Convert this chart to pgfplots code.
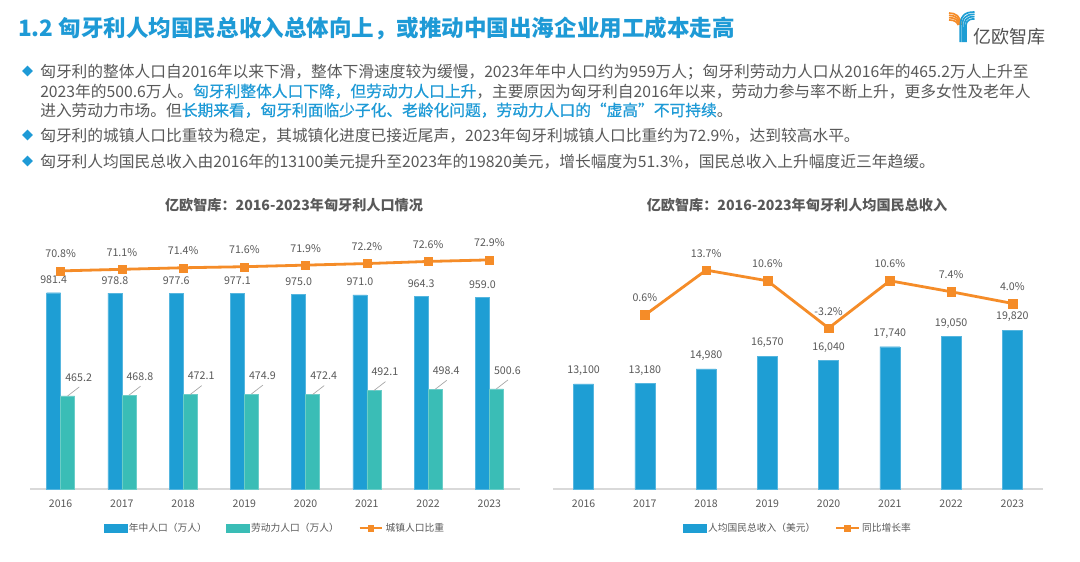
\documentclass[border=0pt]{standalone}
\usepackage{fontspec}
\setmainfont{Noto Sans CJK SC}
\newfontfamily\hlfont[FakeBold=0.7]{Noto Sans CJK SC}
\usepackage{pgfplots}
\usepackage{pgfplotstable}
\pgfplotsset{compat=1.18}
\pgfplotsset{/pgf/number format/assume math mode=true}

\definecolor{titleblue}{RGB}{30,154,214}
\definecolor{barblue}{RGB}{30,158,212}
\definecolor{barteal}{RGB}{58,189,182}
\definecolor{lineorange}{RGB}{245,140,40}
\definecolor{textgray}{RGB}{89,89,89}
\definecolor{axisgray}{RGB}{217,217,217}
\definecolor{leadgray}{RGB}{166,166,166}

% Hungary: mid-year population, labour force (10k persons), urban share (%)
\pgfplotstableread{
x pop labor urban
0 981.4 465.2 70.8
1 978.8 468.8 71.1
2 977.6 472.1 71.4
3 977.1 474.9 71.6
4 975.0 472.4 71.9
5 971.0 492.1 72.2
6 964.3 498.4 72.6
7 959.0 500.6 72.9
}\popdata

% GNI per capita (USD)
\pgfplotstableread{
x gni
0 13100
1 13180
2 14980
3 16570
4 16040
5 17740
6 19050
7 19820
}\gnidata

% Year-on-year growth (%)
\pgfplotstableread{
x growth
1 0.6
2 13.7
3 10.6
4 -3.2
5 10.6
6 7.4
7 4.0
}\growthdata

\tikzset{lbl/.style={font=\fontsize{8}{9}\selectfont, text=textgray, anchor=center}}

\pgfplotsset{
  panel/.style={
    scale only axis, width=367.5pt, height=194.25pt,
    xmin=-0.5, xmax=7.5, anchor=south west, clip=false,
  },
  barpanel/.style={
    panel,
    axis x line*=bottom, axis y line=none,
    x axis line style={draw=axisgray, line width=1.1pt},
    xtick={0,...,7},
    xticklabels={2016,2017,2018,2019,2020,2021,2022,2023},
    major tick length=0pt,
    xticklabel style={font=\fontsize{7.9}{9}\selectfont, text=textgray,
      anchor=center, yshift=-11.25pt},
    ytick=\empty,
    legend style={draw=none, fill=none, anchor=center,
      font=\fontsize{7.3}{9}\selectfont, text=textgray,
      /tikz/every even column/.append style={column sep=13pt},
      nodes={inner sep=1.5pt}},
    legend cell align=left,
  },
  linepanel/.style={panel, hide axis},
}

\begin{document}
\begin{tikzpicture}
\useasboundingbox (0,0) rectangle (810pt,-420.75pt);
\fill[white] (0,0) rectangle (810pt,-420.75pt);

% ---------- header and bullet text ----------
\begin{scope}[x=0.75pt,y=-0.75pt]
\node[anchor=base west, inner sep=0, text=titleblue,
  font=\fontsize{16.9}{20}\selectfont\bfseries] at (18,36.5)
  {1.2 匈牙利人均国民总收入总体向上，或推动中国出海企业用工成本走高};

% logo: striped Y mark and wordmark
\foreach \i in {0,1,2,3}{
  \draw[lineorange, line width=1.25pt]
    (949,{13+2.3*\i}) .. controls (955,{13+2.3*\i}) and ({961-1.0*\i},{16+2.3*\i}) .. ({961-1.0*\i},{25});
}
\foreach \i in {0,1,2,3}{
  \draw[barblue, line width=1.25pt]
    (974.5,{12+2.3*\i}) .. controls ({964+0.6*\i},{12+2.3*\i}) and ({960.2+1.9*\i},{16+2.6*\i}) .. ({960.2+1.9*\i},28)
    -- ({960.2+1.9*\i},42);
}
\node[anchor=base west, inner sep=0, text=black!68,
  font=\fontsize{13.5}{15}\selectfont] at (973,43.6) {亿欧智库};

% bullets
\foreach \yy in {71,135,161}{
  \fill[titleblue] (27.5,\yy-5.3) -- (32.8,\yy) -- (27.5,\yy+5.3) -- (22.2,\yy) -- cycle;
}
\begin{scope}[every node/.style={anchor=base west, inner sep=0, text=textgray,
  font=\fontsize{11.8}{14}\selectfont}]
\node at (40,77) {匈牙利的整体人口自2016年以来下滑，整体下滑速度较为缓慢，2023年年中人口约为959万人；匈牙利劳动力人口从2016年的465.2万人上升至};
\node at (40,97) {2023年的500.6万人。{\color{titleblue}\hlfont 匈牙利整体人口下降，但劳动力人口上升}，主要原因为匈牙利自2016年以来，劳动力参与率不断上升，更多女性及老年人};
\node at (40,116) {进入劳动力市场。但{\color{titleblue}\hlfont 长期来看，匈牙利面临少子化、老龄化问题，劳动力人口的“虚高”不可持续}。};
\node at (40,141) {匈牙利的城镇人口比重较为稳定，其城镇化进度已接近尾声，2023年匈牙利城镇人口比重约为72.9\%，达到较高水平。};
\node at (40,167) {匈牙利人均国民总收入由2016年的13100美元提升至2023年的19820美元，增长幅度为51.3\%，国民总收入上升幅度近三年趋缓。};
\end{scope}

% chart titles
\node[anchor=base, inner sep=0, text=textgray, font=\fontsize{10.6}{12}\selectfont\bfseries]
  at (294,210.4) {亿欧智库：2016-2023年匈牙利人口情况};
\node[anchor=base, inner sep=0, text=textgray, font=\fontsize{10.6}{12}\selectfont\bfseries]
  at (797,210.4) {亿欧智库：2016-2023年匈牙利人均国民总收入};
\end{scope}

% ---------- left chart: population ----------
\begin{axis}[barpanel, at={(22.5pt,-366.75pt)}, ymin=0, ymax=1295,
  legend columns=3, legend style={at={(0.5,-0.1506)}}]
\addplot[ybar, bar width=10.5pt, bar shift=0pt, fill=barblue, draw=barblue!75!white, line width=0.3pt,
  nodes near coords={\pgfmathprintnumber[fixed,fixed zerofill,precision=1]{\pgfplotspointmeta}},
  nodes near coords style={lbl, yshift=9.5pt},
  legend image code/.code={\fill[barblue] (0pt,-3pt) rectangle (17pt,3pt);}]
  table[x expr=\thisrow{x}-0.1143, y=pop, meta=pop] {\popdata};
\addlegendentry{年中人口（万人）}
\addplot[ybar, bar width=10.5pt, bar shift=0pt, fill=barteal, draw=barteal!75!white, line width=0.3pt,
  nodes near coords={\pgfmathprintnumber[fixed,fixed zerofill,precision=1]{\pgfplotspointmeta}},
  nodes near coords style={lbl, xshift=8.25pt, yshift=14pt},
  legend image code/.code={\fill[barteal] (0pt,-3pt) rectangle (17pt,3pt);}]
  table[x expr=\thisrow{x}+0.1143, y=labor, meta=labor] {\popdata};
\addlegendentry{劳动力人口（万人）}
% leader lines from the labour-force bars to their labels
\addplot[forget plot, draw=leadgray, line width=0.5pt, quiver={u=0.19, v=45}]
  table[x expr=\thisrow{x}+0.1143, y=labor] {\popdata};
\addlegendimage{legend image code/.code={
  \draw[lineorange, line width=2.2pt] (0pt,0pt) -- (17pt,0pt);
  \fill[lineorange] (6.5pt,-2.2pt) rectangle (10.5pt,2.2pt);}}
\addlegendentry{城镇人口比重}
\end{axis}

\begin{axis}[linepanel, at={(22.5pt,-366.75pt)}, ymin=29.2, ymax=78.6]
\addplot[draw=lineorange, line width=2.1pt, mark=square*, mark size=3pt,
  mark options={solid, fill=lineorange, draw=lineorange, line width=0.3pt},
  nodes near coords={\pgfmathprintnumber[fixed,fixed zerofill,precision=1]{\pgfplotspointmeta}\%},
  nodes near coords style={lbl, yshift=12.75pt}]
  table[x=x, y=urban, meta=urban] {\popdata};
\end{axis}

% ---------- right chart: GNI per capita ----------
\begin{axis}[barpanel, at={(414.75pt,-366.75pt)}, ymin=0, ymax=32294,
  legend columns=2, legend style={at={(0.5,-0.1506)}}]
\addplot[ybar, bar width=15pt, bar shift=0pt, fill=barblue, draw=barblue!75!white, line width=0.3pt,
  nodes near coords={\pgfmathprintnumber[fixed,precision=0,1000 sep={,}]{\pgfplotspointmeta}},
  nodes near coords style={lbl, yshift=9.75pt},
  legend image code/.code={\fill[barblue] (0pt,-3pt) rectangle (17pt,3pt);}]
  table[x=x, y=gni, meta=gni] {\gnidata};
\addlegendentry{人均国民总收入（美元）}
\addlegendimage{legend image code/.code={
  \draw[lineorange, line width=2.2pt] (0pt,0pt) -- (17pt,0pt);
  \fill[lineorange] (6.5pt,-2.2pt) rectangle (10.5pt,2.2pt);}}
\addlegendentry{同比增长率}
\end{axis}

\begin{axis}[linepanel, at={(414.75pt,-366.75pt)}, ymin=-50.1, ymax=25.4]
\addplot[draw=lineorange, line width=2.1pt, mark=square*, mark size=3.3pt,
  mark options={solid, fill=lineorange, draw=lineorange, line width=0.3pt},
  nodes near coords={\pgfmathprintnumber[fixed,fixed zerofill,precision=1]{\pgfplotspointmeta}\%},
  nodes near coords style={lbl, yshift=12.75pt}]
  table[x=x, y=growth, meta=growth] {\growthdata};
\end{axis}
\end{tikzpicture}
\end{document}
